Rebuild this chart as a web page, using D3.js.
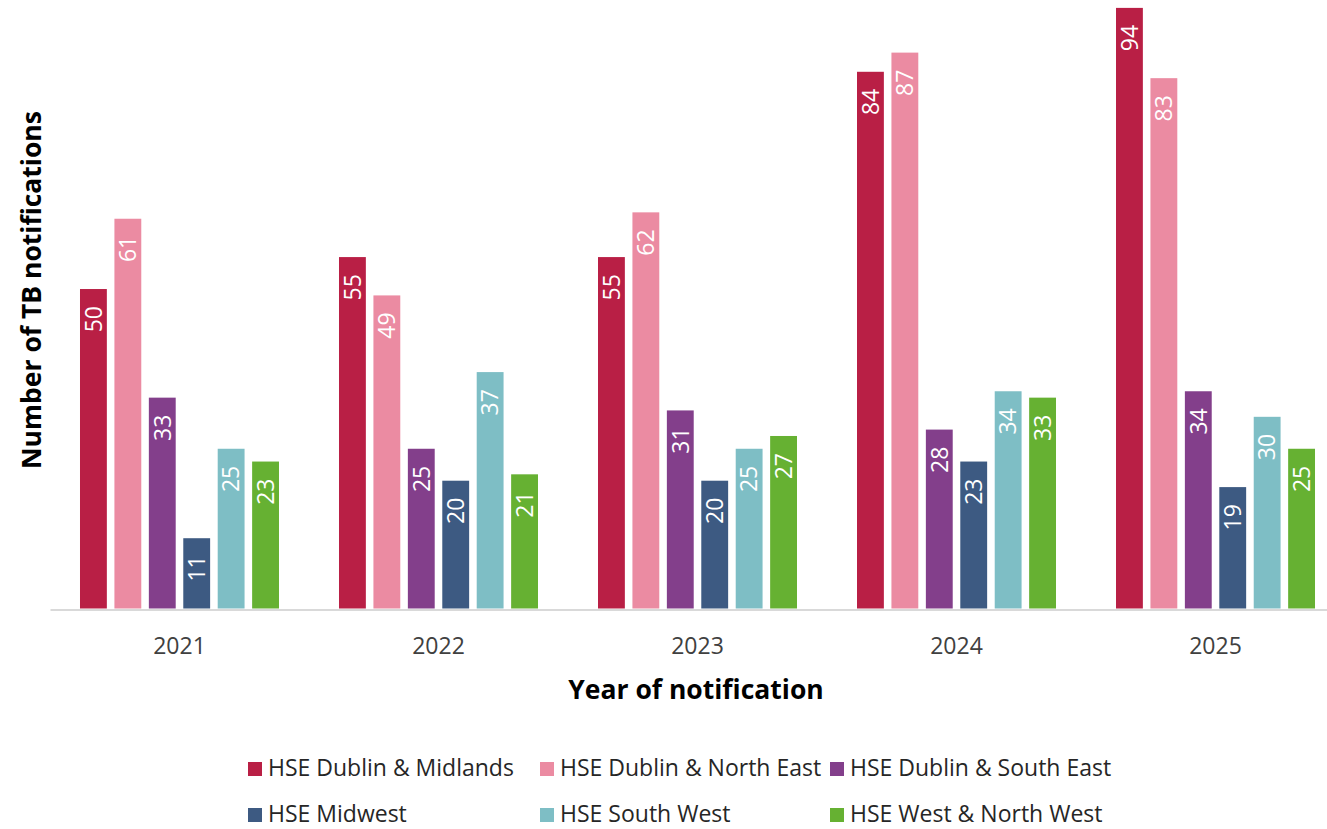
<!DOCTYPE html>
<html>
<head>
<meta charset="utf-8">
<script src="https://cdn.jsdelivr.net/npm/d3@7"></script>
<style>
  body { margin: 0; background: #fff; }
  text { font-family: "Open Sans", "Liberation Sans", sans-serif; }
</style>
</head>
<body>
<svg id="chart" width="1327" height="829"></svg>
<script>
// data
const years = ["2021", "2022", "2023", "2024", "2025"]
const regions = [
  "HSE Dublin & Midlands",
  "HSE Dublin & North East",
  "HSE Dublin & South East",
  "HSE Midwest",
  "HSE South West",
  "HSE West & North West"
]
const dublinMidlands = [50, 55, 55, 84, 94]
const dublinNorthEast = [61, 49, 62, 87, 83]
const dublinSouthEast = [33, 25, 31, 28, 34]
const midwest = [11, 20, 20, 23, 19]
const southWest = [25, 37, 25, 34, 30]
const westNorthWest = [23, 21, 27, 33, 25]
const colours = ["#b91f45", "#eb8ba2", "#833f8b", "#3d5a82", "#7ebec5", "#66b132"]

const seriesValues = [dublinMidlands, dublinNorthEast, dublinSouthEast, midwest, southWest, westNorthWest]
const rows = []
years.forEach((yr, i) => {
  regions.forEach((r, j) => rows.push({year: yr, region: r, value: seriesValues[j][i], colour: colours[j]}))
})

const svg = d3.select("#chart")

const x0 = d3.scaleBand()
  .domain(years)
  .range([50, 1345])
  .paddingInner(0.2317)
  .paddingOuter(0.1158)

const x1 = d3.scaleBand()
  .domain(regions)
  .range([0, x0.bandwidth()])
  .paddingInner(0.22)

const y = d3.scaleLinear()
  .domain([0, 95])
  .range([608.5, 1.5])

// bars
const bars = svg.append("g")
bars.selectAll("rect")
  .data(rows)
  .join("rect")
    .attr("x", d => x0(d.year) + x1(d.region))
    .attr("y", d => y(d.value))
    .attr("width", x1.bandwidth())
    .attr("height", d => y(0) - y(d.value))
    .attr("fill", d => d.colour)

// value labels, rotated inside the bar top
const fs = 23
bars.selectAll("text")
  .data(rows)
  .join("text")
    .attr("transform", d => {
      const cx = x0(d.year) + x1(d.region) + x1.bandwidth() / 2 + fs * 0.36
      return `translate(${cx},${y(d.value) + 17}) rotate(-90)`
    })
    .attr("text-anchor", "end")
    .attr("font-size", fs)
    .attr("fill", "#fff")
    .text(d => d.value)

// x axis
const xAxis = svg.append("g")
  .attr("transform", `translate(0,${y(0) + 1})`)
  .call(d3.axisBottom(x0).tickSize(0).tickPadding(0))
xAxis.select(".domain").attr("stroke", "#d9d9d9").attr("stroke-width", 2)
xAxis.selectAll(".tick text")
  .attr("font-size", 23)
  .attr("fill", "#404040")
  .attr("dy", null)
  .attr("y", 44)

svg.append("text")
  .attr("x", 696)
  .attr("y", 699)
  .attr("text-anchor", "middle")
  .attr("font-size", 26.5)
  .attr("font-weight", "bold")
  .attr("fill", "#000")
  .text("Year of notification")

svg.append("text")
  .attr("transform", "translate(41,290) rotate(-90)")
  .attr("text-anchor", "middle")
  .attr("font-size", 26.5)
  .attr("font-weight", "bold")
  .attr("fill", "#000")
  .text("Number of TB notifications")

// legend
const colX = [248, 540, 830]
const rowY = [776, 822]
const legend = svg.append("g")
const items = legend.selectAll("g")
  .data(regions)
  .join("g")
    .attr("transform", (d, i) => `translate(${colX[i % 3]},${rowY[Math.floor(i / 3)]})`)
items.append("rect")
  .attr("x", 0)
  .attr("y", -14)
  .attr("width", 14)
  .attr("height", 14)
  .attr("fill", (d, i) => colours[i])
items.append("text")
  .attr("x", 20)
  .attr("y", 0)
  .attr("font-size", 23)
  .attr("fill", "#262626")
  .text(d => d)
</script>
</body>
</html>
